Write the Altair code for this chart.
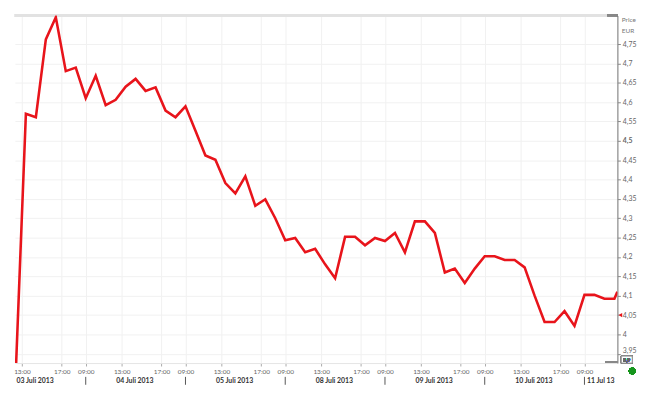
import altair as alt
import pandas as pd

# Trading days shown on the axis (index = position of the day on the compressed axis)
days = ["03 Juli 2013", "04 Juli 2013", "05 Juli 2013", "08 Juli 2013",
        "09 Juli 2013", "10 Juli 2013", "11 Jul 13"]
day_keys = ["07-03", "07-04", "07-05", "07-08", "07-09", "07-10", "07-11"]

# Hourly observations (day key, hour:minute) — session 09:00–18:00
times = (
    [("07-03", h) for h in ["12:00", "13:00", "14:00", "15:00", "16:00", "17:00", "18:00"]]
    + [(d, f"{h:02d}:00") for d in ["07-04", "07-05", "07-08", "07-09", "07-10"] for h in range(9, 19)]
    + [("07-11", h) for h in ["09:00", "10:00", "11:00", "12:00", "12:18"]]
)

price = [
    3.91, 4.570, 4.561, 4.762, 4.819, 4.680, 4.689,
    4.610, 4.668, 4.592, 4.606, 4.640, 4.660, 4.629, 4.638, 4.578, 4.561,
    4.589, 4.526, 4.462, 4.451, 4.391, 4.364, 4.408, 4.332, 4.349, 4.300,
    4.243, 4.249, 4.212, 4.221, 4.181, 4.145, 4.252, 4.252, 4.230, 4.249,
    4.241, 4.262, 4.212, 4.292, 4.292, 4.262, 4.160, 4.170, 4.133, 4.170,
    4.202, 4.202, 4.192, 4.192, 4.173, 4.100, 4.032, 4.032, 4.060, 4.022,
    4.102, 4.102, 4.092, 4.092, 4.110,
]

y_ticks = [3.95, 4.0, 4.05, 4.1, 4.15, 4.2, 4.25, 4.3, 4.35, 4.4, 4.45,
           4.5, 4.55, 4.6, 4.65, 4.7, 4.75]
tick_labels = ["13:00", "17:00", "09:00"]
tick_offsets = [3.6, 7.6, 10.0]
last_marker = 4.05


def to_pos(day, hm):
    h, m = hm.split(":")
    return day_keys.index(day) * 10 + (int(h) - 9) + int(m) / 60


df = pd.DataFrame({"t": [to_pos(d, hm) for d, hm in times], "price": price})

x_ticks = [d * 10 + off for d in range(6) for off in tick_offsets]
dates_df = pd.DataFrame({"label": days,
                         "t": [i * 10 + 3.05 for i in range(6)] + [60.25]})
sep_df = pd.DataFrame({"t": [10 * i for i in range(1, 7)]})

W, H = 610, 352
FONT = "Lato"
xscale = alt.Scale(domain=[2.9, 63.3], nice=False, zero=False)
yscale = alt.Scale(domain=[3.926, 4.824], nice=False, zero=False)

label_expr = ("round((datum.value % 10) * 10) == 36 ? '" + tick_labels[0] + "' : "
              "round((datum.value % 10) * 10) == 76 ? '" + tick_labels[1] + "' : '"
              + tick_labels[2] + "'")

line = alt.Chart(df).mark_line(color="#e8141b", strokeWidth=2.6, clip=True).encode(
    x=alt.X("t:Q", scale=xscale,
            axis=alt.Axis(values=x_ticks, tickCount=200, labelExpr=label_expr, title=None,
                          grid=True, gridColor="#f1f1f1", domainColor="#e6e6e6",
                          tickColor="#aaa", tickSize=3, labelFontSize=6.5,
                          labelColor="#666", labelPadding=3, labelFont=FONT,
                          labelFlush=False, labelOverlap=False)),
    y=alt.Y("price:Q", scale=yscale,
            axis=alt.Axis(orient="right", values=y_ticks, tickCount=200, title=["Price", "EUR"],
                          labelExpr="replace(format(datum.value, '.2~f'), '.', ',')",
                          labelFontWeight={"condition": {"test": "datum.value == 4.5", "value": "bold"}, "value": "normal"},
                          labelOffset={"condition": {"test": "datum.value < 3.97", "value": -3}, "value": 0},
                          labelColor="#666", labelFontSize=7, labelFont=FONT,
                          labelPadding=2, tickSize=3, tickColor="#888",
                          domainColor="#888", domainWidth=1.2,
                          grid=True, gridColor="#f1f1f1", labelOverlap=False,
                          titleAngle=0, titleAlign="left", titleBaseline="top",
                          titleX=4, titleY=1, titleFontSize=6.5, titleFontWeight="normal",
                          titleColor="#777", titleFont=FONT, titleLineHeight=11)),
)

dates = alt.Chart(dates_df).mark_text(align="left", baseline="middle", fontSize=7,
                                      fontWeight="bold", color="#333", font=FONT).encode(
    x=alt.X("t:Q", scale=xscale), y=alt.value(H + 18), text="label:N")

seps = alt.Chart(sep_df).mark_rule(color="#555", strokeWidth=1).encode(
    x=alt.X("t:Q", scale=xscale), y=alt.value(H + 14), y2=alt.value(H + 22))

top_rule = alt.Chart(df).mark_rule(color="#e2e2e2", strokeWidth=2).encode(
    x=alt.value(0), x2=alt.value(W), y=alt.value(0))
top_corner = alt.Chart(df).mark_rule(color="#888", strokeWidth=1.5).encode(
    x=alt.value(W - 10), x2=alt.value(W), y=alt.value(0))
bottom_corner = alt.Chart(df).mark_rule(color="#888", strokeWidth=1.2).encode(
    x=alt.value(W - 12), x2=alt.value(W), y=alt.value(H - 1))

marker = alt.Chart(pd.DataFrame({"v": [last_marker]})).mark_point(
    shape="triangle-left", filled=True, color="#e8141b", size=18, opacity=1).encode(
    x=alt.value(W + 3), y=alt.Y("v:Q", scale=yscale))

box = alt.Chart(df).mark_rect(fill="white", stroke="#888", strokeWidth=0.8).encode(
    x=alt.value(W + 4), x2=alt.value(W + 15), y=alt.value(H - 7), y2=alt.value(H))
box_text = alt.Chart(df).mark_text(text="3,9", fontSize=5, color="#666",
                                   font=FONT, align="center", baseline="middle").encode(
    x=alt.value(W + 9.5), y=alt.value(H - 3.5))

green = alt.Chart(df).mark_circle(color="#16961e", size=45, opacity=1).encode(
    x=alt.value(W + 15), y=alt.value(H + 8))

chart = alt.layer(
    top_rule, line, top_corner, bottom_corner, dates, seps, marker, box, box_text, green
).properties(
    width=W, height=H,
    padding={"left": 7, "top": 5, "right": 31, "bottom": 40},
    autosize=alt.AutoSizeParams(type="none"),
    background="white",
).configure_view(stroke=None)

chart.save("out.html", embed_options={"renderer": "svg", "actions": False})
